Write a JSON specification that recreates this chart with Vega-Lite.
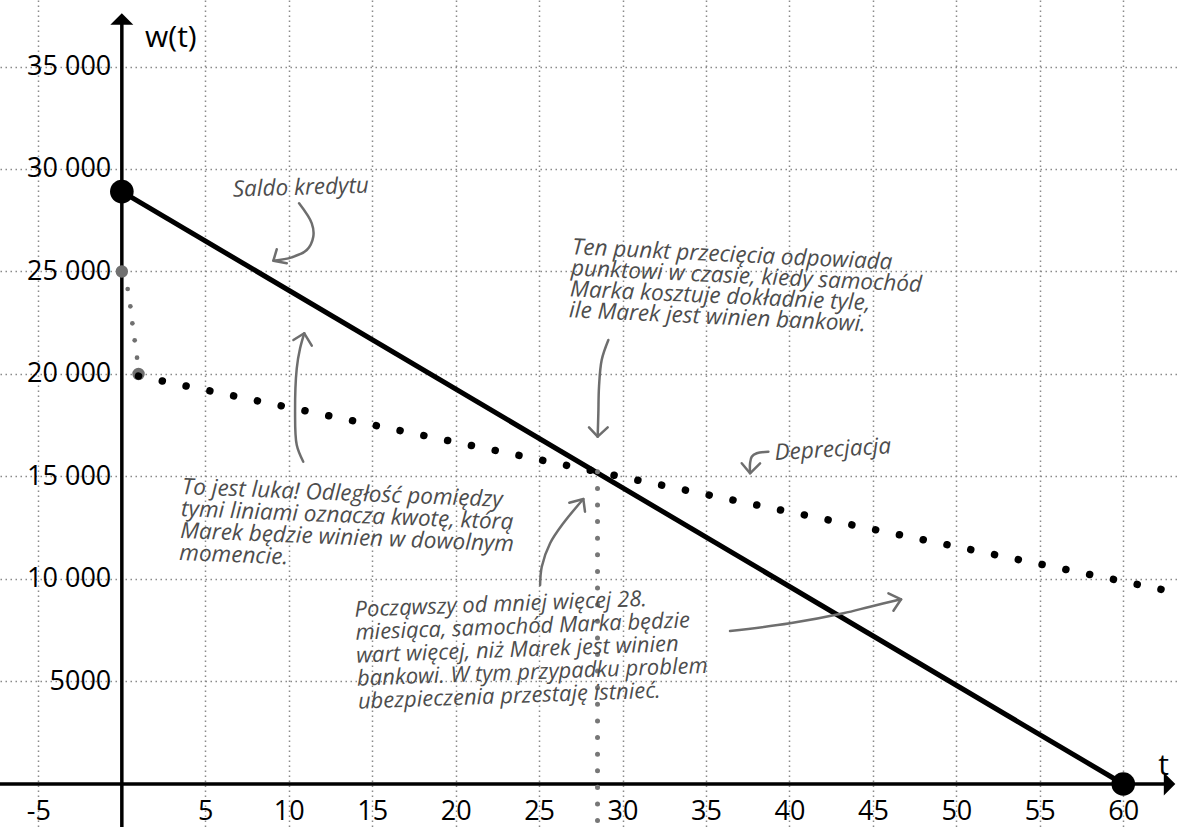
{
  "$schema": "https://vega.github.io/schema/vega-lite/v6.json",
  "width": 1177,
  "height": 827,
  "padding": 0,
  "autosize": {"type": "fit", "contains": "padding"},
  "background": "white",
  "config": {"view": {"stroke": null}},
  "datasets": {
    "credit": [{"t": 0, "v": 28900}, {"t": 60, "v": 0}],
    "dep": [{"t": 1, "v": 19900}, {"t": 64, "v": 9200}],
    "grayBig": [{"t": 0, "v": 25000}, {"t": 1, "v": 20000}],
    "graySmall": [
      {"t": 0.35, "v": 24146}, {"t": 0.51, "v": 23302}, {"t": 0.63, "v": 22473},
      {"t": 0.77, "v": 21644}, {"t": 0.91, "v": 20795}
    ],
    "vline": [{"t": 28.5, "v": 15230}, {"t": 28.5, "v": -2300}],
    "axisLines": [
      {"t": -7.4, "t2": 62.6, "v": 0, "v2": 0},
      {"t": 0, "t2": 0, "v": -2300, "v2": 37300}
    ],
    "arrowUp": [{"t": 0, "v": 37317}],
    "arrowRightTri": [{"t": 62.43, "v": 561, "v2": -561}, {"t": 63.12, "v": 0, "v2": 0}],
    "arrowBody": [
      {"id": "a", "i": 0, "t": 10.62, "v": 28327}, {"id": "a", "i": 1, "t": 11.38, "v": 27351},
      {"id": "a", "i": 2, "t": 11.47, "v": 26697}, {"id": "a", "i": 3, "t": 11.08, "v": 26049},
      {"id": "a", "i": 4, "t": 10.18, "v": 25692}, {"id": "a", "i": 5, "t": 9.08, "v": 25527},
      {"id": "b", "i": 0, "t": 10.87, "v": 15722}, {"id": "b", "i": 1, "t": 10.48, "v": 16536},
      {"id": "b", "i": 2, "t": 10.38, "v": 18161}, {"id": "b", "i": 3, "t": 10.48, "v": 20278},
      {"id": "b", "i": 4, "t": 10.68, "v": 21254}, {"id": "b", "i": 5, "t": 10.93, "v": 21985},
      {"id": "c", "i": 0, "t": 29.15, "v": 21658}, {"id": "c", "i": 1, "t": 28.75, "v": 20683},
      {"id": "c", "i": 2, "t": 28.59, "v": 19380}, {"id": "c", "i": 3, "t": 28.55, "v": 18083},
      {"id": "c", "i": 4, "t": 28.51, "v": 16941},
      {"id": "d", "i": 0, "t": 38.74, "v": 16210}, {"id": "d", "i": 1, "t": 38.04, "v": 16132},
      {"id": "d", "i": 2, "t": 37.74, "v": 15966}, {"id": "d", "i": 3, "t": 37.64, "v": 15644},
      {"id": "d", "i": 4, "t": 37.64, "v": 15156},
      {"id": "e", "i": 0, "t": 25.06, "v": 9707}, {"id": "e", "i": 1, "t": 25.16, "v": 10600},
      {"id": "e", "i": 2, "t": 25.66, "v": 11741}, {"id": "e", "i": 3, "t": 26.45, "v": 12717},
      {"id": "e", "i": 4, "t": 27.65, "v": 13902},
      {"id": "f", "i": 0, "t": 36.44, "v": 7463}, {"id": "f", "i": 1, "t": 40.03, "v": 7839},
      {"id": "f", "i": 2, "t": 43.23, "v": 8327}, {"id": "f", "i": 3, "t": 44.83, "v": 8649},
      {"id": "f", "i": 4, "t": 46.69, "v": 9010}
    ],
    "arrowHead": [
      {"id": "a", "i": 0, "t": 9.28, "v": 26083}, {"id": "a", "i": 1, "t": 9.08, "v": 25527}, {"id": "a", "i": 2, "t": 9.88, "v": 25400},
      {"id": "b", "i": 0, "t": 10.28, "v": 21658}, {"id": "b", "i": 1, "t": 10.93, "v": 21985}, {"id": "b", "i": 2, "t": 11.38, "v": 21380},
      {"id": "c", "i": 0, "t": 27.99, "v": 17400}, {"id": "c", "i": 1, "t": 28.51, "v": 16941}, {"id": "c", "i": 2, "t": 29.11, "v": 17400},
      {"id": "d", "i": 0, "t": 37.14, "v": 15644}, {"id": "d", "i": 1, "t": 37.64, "v": 15156}, {"id": "d", "i": 2, "t": 38.24, "v": 15644},
      {"id": "e", "i": 0, "t": 26.81, "v": 13722}, {"id": "e", "i": 1, "t": 27.65, "v": 13902}, {"id": "e", "i": 2, "t": 27.75, "v": 13283},
      {"id": "f", "i": 0, "t": 45.93, "v": 9302}, {"id": "f", "i": 1, "t": 46.69, "v": 9010}, {"id": "f", "i": 2, "t": 46.23, "v": 8454}
    ]
  },
  "encoding": {
    "x": {
      "field": "t",
      "type": "quantitative",
      "scale": {"domain": [-7.3, 63.22], "nice": false, "zero": false},
      "axis": {
        "orient": "bottom",
        "offset": -43,
        "values": [-5, 5, 10, 15, 20, 25, 30, 35, 40, 45, 50, 55, 60],
        "domain": false,
        "ticks": false,
        "tickSize": 0,
        "grid": true,
        "gridColor": "#8a8a8a",
        "gridDash": [1.5, 3.5],
        "gridWidth": 1.5,
        "labelFont": "Open Sans",
        "labelFontSize": 27,
        "labelColor": "#000000",
        "labelPadding": 14,
        "labelOverlap": false,
        "labelFlush": false,
        "labelExpr": "datum.value < 0 ? '-' + format(-datum.value, 'd') : format(datum.value, 'd')",
        "title": null
      }
    },
    "y": {
      "field": "v",
      "type": "quantitative",
      "scale": {"domain": [-2098, 38244], "nice": false, "zero": false},
      "axis": {
        "orient": "left",
        "offset": -121.8,
        "values": [5000, 10000, 15000, 20000, 25000, 30000, 35000],
        "domain": false,
        "ticks": false,
        "tickSize": 0,
        "grid": true,
        "gridColor": "#8a8a8a",
        "gridDash": [1.5, 3.5],
        "gridWidth": 1.5,
        "labelFont": "Open Sans",
        "labelFontSize": 27,
        "labelColor": "#000000",
        "labelPadding": 11,
        "labelOverlap": false,
        "labelFlush": false,
        "labelExpr": "datum.value >= 10000 ? replace(format(datum.value, ','), ',', ' ') : format(datum.value, 'd')",
        "title": null
      }
    }
  },
  "layer": [
    {
      "data": {"name": "axisLines"},
      "mark": {"type": "rule", "color": "#000000", "strokeWidth": 3.5, "clip": true},
      "encoding": {"x2": {"field": "t2"}, "y2": {"field": "v2"}}
    },
    {
      "data": {"name": "arrowRightTri"},
      "mark": {"type": "area", "color": "#000000", "opacity": 1, "line": false},
      "encoding": {"y2": {"field": "v2"}}
    },
    {
      "data": {"name": "credit"},
      "mark": {"type": "line", "color": "#000000", "strokeWidth": 5, "clip": true},
      "encoding": {}
    },
    {
      "data": {"name": "graySmall"},
      "mark": {"type": "circle", "color": "#707070", "opacity": 1, "size": 22},
      "encoding": {}
    },
    {
      "data": {"name": "grayBig"},
      "mark": {"type": "circle", "color": "#707070", "opacity": 1, "size": 154},
      "encoding": {}
    },
    {
      "data": {"name": "dep"},
      "mark": {"type": "line", "color": "#000000", "strokeWidth": 7.5, "strokeDash": [0.01, 24.28], "strokeCap": "round", "clip": true},
      "encoding": {}
    },
    {
      "data": {"name": "vline"},
      "mark": {"type": "line", "color": "#777777", "strokeWidth": 5, "strokeDash": [0.01, 16.6], "strokeCap": "round", "clip": true},
      "encoding": {"order": {"field": "v", "sort": "descending"}}
    },
    {
      "data": {"name": "credit"},
      "mark": {"type": "circle", "color": "#000000", "opacity": 1, "size": 560},
      "encoding": {}
    },
    {
      "data": {"name": "arrowUp"},
      "mark": {"type": "point", "shape": "M -1 0.5 L 0 -0.5 L 1 0.5 Z", "filled": true, "color": "#000000", "opacity": 1, "size": 529},
      "encoding": {}
    },
    {
      "data": {"name": "arrowBody"},
      "mark": {"type": "line", "color": "#6e6e6e", "strokeWidth": 2.5, "interpolate": "catmull-rom", "strokeCap": "round"},
      "encoding": {"detail": {"field": "id"}, "order": {"field": "i"}}
    },
    {
      "data": {"name": "arrowHead"},
      "mark": {"type": "line", "color": "#6e6e6e", "strokeWidth": 2.5, "strokeCap": "round", "strokeJoin": "round"},
      "encoding": {"detail": {"field": "id"}, "order": {"field": "i"}}
    },
    {
      "data": {"values": [{"t": 6.66, "v": 28649, "label": "Saldo kredytu"}]},
      "mark": {"type": "text", "align": "left", "baseline": "alphabetic", "font": "Open Sans", "fontStyle": "italic", "fontSize": 22.5, "color": "#4d4d4d", "angle": -1.7},
      "encoding": {"text": {"field": "label"}}
    },
    {
      "data": {"values": [{"t": 26.96, "v": 25839, "label": "Ten punkt przecięcia odpowiada\npunktowi w czasie, kiedy samochód\nMarka kosztuje dokładnie tyle,\nile Marek jest winien bankowi."}]},
      "mark": {"type": "text", "align": "left", "baseline": "alphabetic", "lineBreak": "\n", "lineHeight": 21, "font": "Open Sans", "fontStyle": "italic", "fontSize": 22.5, "color": "#4d4d4d", "angle": 2.7},
      "encoding": {"text": {"field": "label"}}
    },
    {
      "data": {"values": [{"t": 3.59, "v": 14146, "label": "To jest luka! Odległość pomiędzy\ntymi liniami oznacza kwotę, którą\nMarek będzie winien w dowolnym\nmomencie."}]},
      "mark": {"type": "text", "align": "left", "baseline": "alphabetic", "lineBreak": "\n", "lineHeight": 22, "font": "Open Sans", "fontStyle": "italic", "fontSize": 22.5, "color": "#4d4d4d", "angle": 2.3},
      "encoding": {"text": {"field": "label"}}
    },
    {
      "data": {"values": [{"t": 13.96, "v": 8161, "label": "Począwszy od mniej więcej 28.\nmiesiąca, samochód Marka będzie\nwart więcej, niż Marek jest winien\nbankowi. W tym przypadku problem\nubezpieczenia przestaję istnieć."}]},
      "mark": {"type": "text", "align": "left", "baseline": "alphabetic", "lineBreak": "\n", "lineHeight": 23, "font": "Open Sans", "fontStyle": "italic", "fontSize": 22, "color": "#4d4d4d", "angle": -2.1},
      "encoding": {"text": {"field": "label"}}
    },
    {
      "data": {"values": [{"t": 39.14, "v": 15805, "label": "Deprecjacja"}]},
      "mark": {"type": "text", "align": "left", "baseline": "alphabetic", "font": "Open Sans", "fontStyle": "italic", "fontSize": 22.5, "color": "#4d4d4d", "angle": -3.3},
      "encoding": {"text": {"field": "label"}}
    },
    {
      "data": {"values": [{"t": 1.39, "v": 35927, "label": "w(t)"}, {"t": 62.09, "v": 439, "label": "t"}]},
      "mark": {"type": "text", "align": "left", "baseline": "alphabetic", "font": "Open Sans", "fontSize": 30, "color": "#000000"},
      "encoding": {"text": {"field": "label"}}
    }
  ]
}
